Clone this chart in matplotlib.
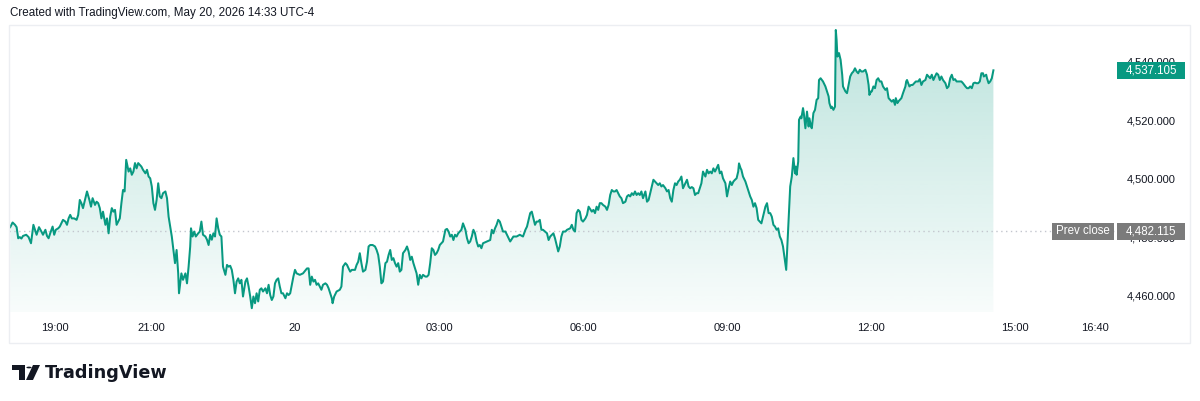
import matplotlib
matplotlib.use('Agg')
import matplotlib.pyplot as plt
import matplotlib.dates as mdates
import matplotlib.transforms as mtransforms
from matplotlib.colors import to_rgb
from matplotlib.patches import Rectangle, Circle, Polygon
import numpy as np
import pandas as pd

evening_min = [4, 7, 10, 12, 14, 16, 18, 20, 24, 27,
               30, 33, 35, 37, 40, 43, 45, 48, 50, 52,
               54, 57, 59, 61, 64, 66, 70, 73, 75, 77,
               79, 81, 84, 87, 89, 91, 93, 95, 98, 100,
               103, 105, 107, 110, 112, 114, 116, 118, 120, 123,
               125, 127, 129, 131, 133, 135, 137, 139, 141, 143,
               145, 147, 149, 152, 154, 156, 158, 160, 162, 164,
               166, 168, 170, 173, 175, 177, 179, 181, 183, 185,
               187, 189, 191, 193, 195, 198, 200, 202, 204, 206,
               208, 210, 212, 214, 215, 217, 218, 220, 223, 225,
               227, 229, 230, 232, 234, 236, 239, 241, 243, 245,
               248, 250, 252, 254, 256, 258, 260, 262, 264, 266,
               268, 270, 273, 275, 277, 279, 281, 283, 285, 287,
               289, 291, 293, 295, 298, 300, 302, 304, 306, 308,
               310, 312, 314, 316, 318, 320, 323, 325, 327, 329,
               331, 333, 335, 337, 339, 341, 343, 345, 348, 350, 352]
evening_px = [4483.5, 4485.1, 4484.3, 4483.5, 4479.7, 4480.1, 4479.6, 4480.5, 4480.9, 4480.1,
              4478.0, 4484.3, 4482.6, 4480.9, 4483.5, 4482.0, 4480.9, 4482.6, 4480.5, 4479.7,
              4481.4, 4483.7, 4480.9, 4482.6, 4483.1, 4483.7, 4486.0, 4485.4, 4484.3, 4486.5,
              4487.7, 4486.5, 4486.5, 4486.0, 4487.7, 4492.8, 4491.7, 4490.0, 4493.4, 4495.7,
              4492.8, 4490.5, 4493.4, 4491.1, 4492.2, 4491.7, 4490.0, 4486.5, 4488.8, 4484.3,
              4486.5, 4481.4, 4487.1, 4490.0, 4488.8, 4489.4, 4484.3, 4485.4, 4486.5, 4491.7,
              4496.2, 4495.7, 4506.5, 4502.5, 4503.6, 4501.4, 4502.5, 4505.4, 4503.6, 4505.4,
              4504.8, 4504.2, 4503.1, 4501.9, 4503.1, 4500.8, 4500.2, 4497.4, 4491.7, 4489.4,
              4492.8, 4498.5, 4494.0, 4493.4, 4495.1, 4495.7, 4493.4, 4487.1, 4483.7, 4480.3,
              4475.7, 4471.2, 4475.7, 4467.7, 4460.9, 4465.5, 4467.7, 4465.5, 4467.7, 4464.3,
              4470.0, 4476.9, 4483.1, 4480.3, 4482.0, 4480.3, 4481.4, 4482.0, 4485.4, 4480.9,
              4480.3, 4479.2, 4477.4, 4480.9, 4479.2, 4481.4, 4480.3, 4486.5, 4483.1, 4480.9,
              4480.3, 4470.0, 4467.2, 4470.6, 4470.0, 4470.3, 4468.9, 4465.5, 4460.9, 4464.9,
              4466.0, 4464.3, 4465.5, 4459.8, 4464.9, 4466.0, 4463.2, 4459.8, 4455.8, 4459.8,
              4457.5, 4460.9, 4458.1, 4462.1, 4462.6, 4461.5, 4462.6, 4460.9, 4463.8, 4460.3,
              4458.6, 4459.8, 4464.3, 4465.5, 4466.0, 4463.2, 4460.9, 4460.9, 4459.2, 4460.9, 4460.3]

overnight_min = [354, 358, 360, 362, 366, 370, 375, 377, 379, 381,
                 383, 385, 387, 389, 391, 393, 395, 398, 400, 402,
                 404, 406, 407, 409, 412, 416, 418, 420, 423, 425,
                 427, 429, 431, 435, 437, 439, 441, 443, 445, 448,
                 450, 452, 454, 457, 460, 462, 464, 466, 468, 470,
                 473, 475, 477, 479, 481, 483, 485, 487, 489, 491,
                 493, 495, 498, 500, 502, 504, 506, 508, 510, 512,
                 514, 516, 518, 520, 523, 525, 527, 529, 531, 533,
                 535, 537, 539, 541, 543, 545, 548, 550, 552, 554,
                 556, 558, 560, 562, 564, 566, 568, 570, 573, 575,
                 577, 579, 581, 583, 585, 587, 589, 591, 593, 595,
                 600, 604, 606, 608, 610, 612, 614, 616, 620, 623,
                 627, 629, 633, 637, 641, 645, 648, 650, 654, 656,
                 658, 660, 662, 664, 666, 668, 670, 675, 677, 679,
                 683, 685, 689, 691, 693, 695, 698, 700, 704, 706,
                 708, 710, 712, 714, 716, 718, 720, 723, 725, 727]
overnight_px = [4460.9, 4466.6, 4468.9, 4467.7, 4467.2, 4467.7, 4469.4, 4469.4, 4463.8, 4466.6,
                4464.9, 4465.5, 4463.8, 4464.3, 4463.2, 4462.1, 4463.8, 4464.3, 4463.8, 4462.6,
                4460.9, 4459.2, 4457.5, 4459.8, 4461.5, 4462.1, 4463.2, 4470.0, 4471.2, 4470.6,
                4469.4, 4468.3, 4468.9, 4468.9, 4470.6, 4471.7, 4474.6, 4471.2, 4468.3, 4468.9,
                4471.7, 4476.9, 4477.4, 4477.4, 4476.9, 4475.7, 4474.0, 4470.0, 4464.3, 4464.9,
                4471.2, 4471.7, 4474.0, 4475.7, 4472.3, 4472.9, 4471.2, 4470.0, 4471.2, 4468.3,
                4468.9, 4474.6, 4475.7, 4476.9, 4475.2, 4472.3, 4473.4, 4471.2, 4469.4, 4467.7,
                4463.8, 4467.2, 4466.0, 4467.2, 4466.6, 4466.6, 4467.2, 4471.2, 4476.3, 4475.7,
                4474.0, 4474.6, 4475.7, 4477.4, 4478.0, 4478.6, 4482.6, 4482.9, 4482.0, 4480.3,
                4480.9, 4479.1, 4480.9, 4480.3, 4481.4, 4482.0, 4482.6, 4484.8, 4482.6, 4479.7,
                4478.0, 4478.6, 4480.3, 4482.6, 4481.4, 4478.6, 4476.9, 4477.4, 4476.3, 4478.0,
                4478.6, 4479.1, 4482.6, 4481.4, 4483.1, 4484.3, 4486.0, 4485.4, 4482.0, 4482.0,
                4479.7, 4478.6, 4480.3, 4480.3, 4480.9, 4480.3, 4482.6, 4483.7, 4488.3, 4488.8,
                4486.5, 4484.3, 4485.4, 4485.4, 4486.0, 4482.6, 4482.6, 4481.4, 4479.1, 4480.3,
                4481.4, 4479.7, 4475.2, 4476.9, 4480.3, 4482.0, 4482.0, 4482.6, 4483.1, 4484.3,
                4482.6, 4482.0, 4488.3, 4489.4, 4488.8, 4486.0, 4485.4, 4486.5, 4487.7, 4490.5]

morning_min = [731, 733, 735, 737, 739, 741, 743, 745, 748, 750,
               752, 754, 756, 758, 760, 762, 764, 766, 768, 770,
               773, 775, 777, 779, 781, 783, 785, 787, 789, 791,
               793, 795, 798, 800, 802, 804, 806, 808, 810, 812,
               814, 816, 818, 820, 823, 825, 827, 829, 831, 833,
               835, 837, 839, 841, 843, 845, 848, 850, 852, 854,
               856, 858, 860, 862, 864, 866, 868, 870, 873, 875,
               877, 879, 881, 883, 885, 887, 889, 891, 893, 895,
               898, 900, 902, 904, 906, 908, 910, 912, 914, 915,
               917, 918, 920, 923, 925, 927, 929, 931, 933, 935,
               937, 939, 941, 943, 945, 948, 950, 952, 954, 956,
               958, 960, 962, 964, 966, 968, 970, 972, 974]
morning_px = [4488.8, 4489.4, 4488.3, 4490.5, 4489.4, 4491.7, 4491.7, 4491.1, 4490.5, 4489.4,
              4491.1, 4494.5, 4496.2, 4495.7, 4495.7, 4496.2, 4495.1, 4494.0, 4493.4, 4491.7,
              4492.2, 4494.0, 4494.5, 4494.0, 4495.1, 4494.5, 4495.7, 4494.5, 4495.1, 4494.5,
              4495.7, 4493.4, 4495.7, 4492.2, 4492.8, 4495.1, 4497.4, 4499.7, 4499.1, 4498.5,
              4497.9, 4498.5, 4497.4, 4497.9, 4496.8, 4495.7, 4496.2, 4493.4, 4492.2, 4496.2,
              4498.5, 4497.9, 4499.1, 4499.7, 4500.8, 4496.8, 4498.5, 4499.7, 4497.4, 4496.8,
              4497.2, 4496.8, 4494.5, 4495.1, 4495.1, 4496.8, 4498.5, 4502.5, 4500.8, 4503.1,
              4501.9, 4502.5, 4501.9, 4503.6, 4502.5, 4503.6, 4504.8, 4501.9, 4502.5, 4500.2,
              4498.5, 4494.0, 4496.8, 4499.1, 4497.9, 4499.1, 4499.7, 4500.2, 4502.5, 4505.3,
              4503.6, 4503.1, 4500.8, 4499.1, 4497.4, 4495.7, 4494.0, 4492.8, 4490.5, 4491.7,
              4490.0, 4486.0, 4485.4, 4484.8, 4487.1, 4490.5, 4491.7, 4488.3, 4488.3, 4487.1,
              4484.3, 4483.7, 4482.6, 4483.1, 4480.3, 4479.1, 4476.9, 4472.9, 4468.9]

session_min = [975, 977, 979, 981, 983, 985, 986, 987, 989, 990,
               992, 993, 995, 996, 998, 1000, 1002, 1003, 1005, 1006,
               1008, 1010, 1012, 1014, 1015, 1017, 1020, 1023, 1025, 1027,
               1028, 1030, 1031, 1033, 1035, 1036, 1037, 1038, 1040, 1042,
               1044, 1045, 1048, 1050, 1052, 1054, 1056, 1058, 1060, 1062,
               1064, 1066, 1068, 1070, 1073, 1075, 1077, 1078, 1080, 1081,
               1083, 1085, 1087, 1089, 1091, 1093, 1095, 1098, 1100, 1102,
               1104, 1106, 1108, 1110, 1111, 1113, 1114, 1116, 1118, 1120,
               1123, 1124, 1125, 1128, 1130, 1132, 1134, 1136, 1139, 1141,
               1143, 1145, 1148, 1150, 1152, 1154, 1156, 1158, 1160, 1162,
               1164, 1166, 1168, 1170, 1173, 1175, 1177, 1179, 1181, 1183,
               1185, 1187, 1189, 1191, 1193, 1195, 1198, 1200, 1202, 1204,
               1206, 1208, 1210, 1212, 1214, 1216, 1218, 1220, 1221, 1224,
               1225, 1227, 1229, 1231, 1233]
session_px = [4474.6, 4486.0, 4497.4, 4500.8, 4507.1, 4501.9, 4504.2, 4501.4, 4505.9, 4520.2,
              4521.3, 4520.7, 4524.2, 4522.5, 4517.3, 4523.0, 4517.9, 4520.7, 4517.9, 4517.3,
              4522.5, 4523.6, 4527.0, 4527.6, 4533.8, 4534.4, 4533.3, 4531.6, 4529.9, 4528.2,
              4525.9, 4524.2, 4524.7, 4523.6, 4524.7, 4550.9, 4547.5, 4541.8, 4543.0, 4540.7,
              4535.6, 4531.6, 4529.9, 4529.3, 4532.1, 4535.0, 4536.1, 4536.7, 4537.8, 4536.7,
              4536.1, 4537.3, 4536.7, 4536.7, 4537.3, 4535.6, 4532.1, 4528.7, 4529.9, 4529.9,
              4531.6, 4531.0, 4533.8, 4534.4, 4533.3, 4533.3, 4531.6, 4530.4, 4531.0, 4527.6,
              4527.0, 4526.4, 4527.0, 4525.3, 4527.6, 4525.9, 4526.4, 4527.0, 4527.6, 4529.3,
              4531.6, 4533.3, 4533.8, 4531.6, 4532.1, 4532.1, 4532.7, 4533.3, 4533.3, 4534.1,
              4532.1, 4533.3, 4533.8, 4535.6, 4535.0, 4534.4, 4535.6, 4533.8, 4535.0, 4536.1,
              4535.6, 4533.8, 4535.0, 4533.8, 4532.7, 4531.0, 4531.6, 4534.4, 4535.6, 4533.8,
              4534.1, 4533.3, 4533.3, 4533.3, 4533.3, 4532.7, 4531.6, 4531.0, 4531.0, 4531.6,
              4531.0, 4532.7, 4532.9, 4532.7, 4532.7, 4533.3, 4536.1, 4536.1, 4535.0, 4535.6,
              4534.4, 4532.7, 4533.3, 4534.4, 4537.105]

prev_close = 4482.115
y_ticks = [4460, 4480, 4500, 4520, 4540]
x_ticks = ['2026-05-19 19:00', '2026-05-19 21:00', '2026-05-20 00:00', '2026-05-20 03:00',
           '2026-05-20 06:00', '2026-05-20 09:00', '2026-05-20 12:00', '2026-05-20 15:00',
           '2026-05-20 16:40']
x_tick_labels = ['19:00', '21:00', '20', '03:00', '06:00', '09:00', '12:00', '15:00', '16:40']

minutes = evening_min + overnight_min + morning_min + session_min
prices = np.array(evening_px + overnight_px + morning_px + session_px)
assert len(minutes) == len(prices)

open_time = pd.Timestamp('2026-05-19 18:00')
times = open_time + pd.to_timedelta(minutes, unit='m')
x = mdates.date2num(times.values)

W, H = 1200, 401
GREEN = '#089981'
GREY = '#7b7b7b'
TEXT = '#131722'
plt.rcParams['font.family'] = ['Liberation Sans', 'DejaVu Sans']

fig = plt.figure(figsize=(W / 100, H / 100), dpi=100)
fig.patch.set_facecolor('white')


def fx(px):
    return px / W


def fy(py):
    return 1 - py / H


pane_top, pane_bot = 25, 312
ax = fig.add_axes([fx(9), fy(pane_bot), fx(1115) - fx(9), fy(pane_top) - fy(pane_bot)])
x_lo = mdates.date2num(open_time + pd.Timedelta(minutes=2.5))
x_hi = mdates.date2num(open_time + pd.Timedelta(minutes=1385))
y_lo, y_hi = 4454.5, 4552.6

# gradient area under the line
grad = np.zeros((256, 1, 4))
grad[..., :3] = to_rgb(GREEN)
grad[:, 0, 3] = np.linspace(0.27, 0.03, 256)
im = ax.imshow(grad, extent=[x[0], x[-1], y_lo, prices.max()], aspect='auto',
               origin='upper', zorder=1, interpolation='bilinear')
area = ax.fill_between(x, prices, y_lo, facecolor='none', edgecolor='none')
im.set_clip_path(area.get_paths()[0], transform=ax.transData)

ax.plot(x, prices, color=GREEN, lw=1.45, zorder=3, solid_joinstyle='round')
ax.axhline(prev_close, color='#c3c6ce', lw=1, ls=(0, (1, 2.5)), zorder=1.5)

ax.set_xlim(x_lo, x_hi)
ax.set_ylim(y_lo, y_hi)
for s in ax.spines.values():
    s.set_visible(False)

ax.set_xticks(mdates.date2num(pd.to_datetime(x_ticks)))
ax.set_xticklabels(x_tick_labels)
ax.set_yticks(y_ticks)
ax.set_yticklabels([f'{v:,.3f}' for v in y_ticks])
ax.yaxis.tick_right()
ax.tick_params(axis='y', length=0, pad=8.6, labelsize=8, labelcolor=TEXT)
ax.tick_params(axis='x', length=0, pad=8, labelsize=8, labelcolor=TEXT)

# price tags on the scale: x in figure pixels, y at the price
tag_tr = mtransforms.blended_transform_factory(fig.transFigure, ax.transData)
units_per_px = (y_hi - y_lo) / (pane_bot - pane_top)
tag_h = 17 * units_per_px


def tag(left, right, price, label, color):
    ax.add_patch(Rectangle((fx(left), price - tag_h / 2), fx(right) - fx(left), tag_h,
                           transform=tag_tr, fc=color, ec='none', zorder=5, clip_on=False))
    ax.text(fx((left + right) / 2), price, label, transform=tag_tr, ha='center', va='center',
            fontsize=8.3, color='white', zorder=6, clip_on=False)


tag(1117, 1185, session_px[-1], f'{session_px[-1]:,.3f}', GREEN)
tag(1117, 1185, prev_close, f'{prev_close:,.3f}', GREY)
tag(1052, 1114, prev_close, 'Prev close', GREY)

# outer frame
fig.add_artist(Rectangle((fx(9), fy(343)), fx(1190) - fx(9), fy(25) - fy(343),
                         transform=fig.transFigure, fill=False, ec='#eceef2', lw=1))

fig.text(fx(10), fy(13), 'Created with TradingView.com, May 20, 2026 14:33 UTC-4',
         ha='left', va='center', fontsize=8.4, color=TEXT)

# TradingView logo
logo = [Polygon([(fx(12), fy(365)), (fx(25), fy(365)), (fx(25), fy(380)),
                 (fx(19), fy(380)), (fx(19), fy(370)), (fx(12), fy(370))]),
        Circle((fx(29), fy(367.5)), 2.6 / W),
        Polygon([(fx(33), fy(365)), (fx(40), fy(365)), (fx(33), fy(380)), (fx(26), fy(380))])]
for p in logo:
    p.set_transform(fig.transFigure)
    p.set_facecolor(TEXT)
    p.set_edgecolor('none')
    fig.add_artist(p)
fig.text(fx(45), fy(372.5), 'TradingView', ha='left', va='center', fontsize=12.7,
         fontweight='bold', color=TEXT, family=['DejaVu Sans'])

fig.savefig('out.png', dpi=100, facecolor='white')
